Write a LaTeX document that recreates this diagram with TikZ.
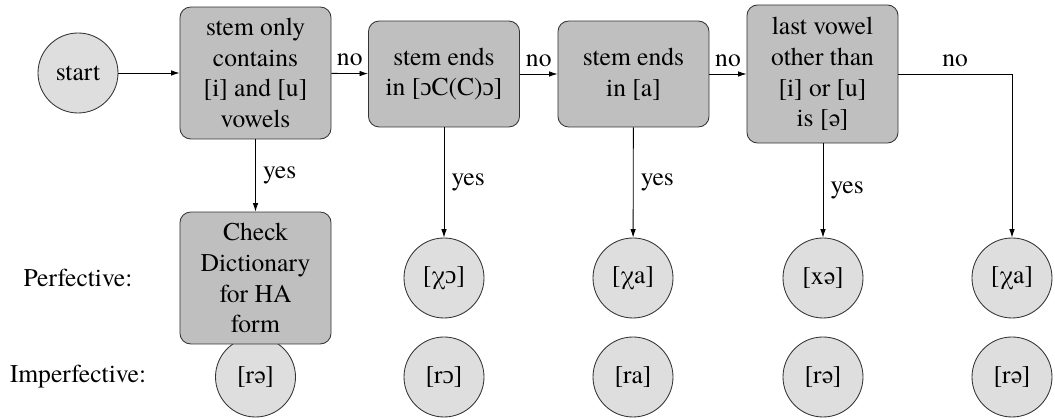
\documentclass[tikz,border=0pt]{standalone}
\usepackage{fontspec}
\newfontfamily\termes{texgyretermes-regular.otf}
\newfontfamily\tnr{Liberation Serif}
\newcommand{\oo}{{\tnr ɔ}}
\usetikzlibrary{arrows.meta}
\begin{document}
\begin{tikzpicture}[x=0.47pt,y=-0.47pt,
  every node/.style={font=\termes\fontsize{12}{14.5}\selectfont},
  decision/.style={draw=black!80, fill=black!25, rounded corners=5pt, align=center, minimum width=71pt, inner sep=2pt},
  result/.style={draw=black!80, fill=black!13, circle, minimum size=37.6pt, inner sep=0pt},
  conn/.style={-{Latex[length=4pt,width=2.6pt]}, black}
]
\useasboundingbox (0,0) rectangle (1055,419);
% start
\node[result] (start) at (78,73) {start};
% decisions
\node[decision, minimum height=62pt] (d1) at (255.5,73) {stem only\\contains\\{[i] and [u]}\\vowels};
\node[decision, minimum height=49.8pt] (d2) at (444,74) {stem ends\\in [\oo C(C)\oo]};
\node[decision, minimum height=49.8pt] (d3) at (633.5,74) {stem ends\\in [a]};
\node[decision, minimum height=64.9pt] (d4) at (822.5,74) {last vowel\\other than\\{[i] or [u]}\\is [ə]};
% imperfective row (drawn first so the Check box covers its circle)
\node[result] (i1) at (255.5,377) {[rə]};
\node[result] (i2) at (444,377) {[r\oo]};
\node[result] (i3) at (633,377) {[ra]};
\node[result] (i4) at (823,377) {[rə]};
\node[result] (i5) at (1012,377) {[rə]};
% perfective row
\node[decision, minimum height=62pt] (p1) at (255.5,278) {Check\\Dictionary\\for HA\\form};
\node[result] (p2) at (444,278) {[χ\oo]};
\node[result] (p3) at (633,278) {[χa]};
\node[result] (p4) at (823,278) {[xə]};
\node[result] (p5) at (1012,278) {[χa]};
% row labels
\node (lp) at (78,278) {Perfective:};
\node (li) at (78,377) {Imperfective:};
% connectors
\draw[conn] (start) -- (d1);
\draw[conn] (d1) -- node[above] {no} (d2);
\draw[conn] (d2) -- node[above] {no} (d3);
\draw[conn] (d3) -- node[above] {no} (d4);
\draw[conn] (d4.east) -- node[above] {no} (p5.north |- d4.east) -- (p5.north);
\draw[conn] (d1) -- node[right] {yes} (p1);
\draw[conn] (d2) -- node[right] {yes} (p2);
\draw[conn] (d3) -- node[right] {yes} (p3);
\draw[conn] (d4.south -| p4.north) -- node[right] {yes} (p4.north);
\end{tikzpicture}
\end{document}
